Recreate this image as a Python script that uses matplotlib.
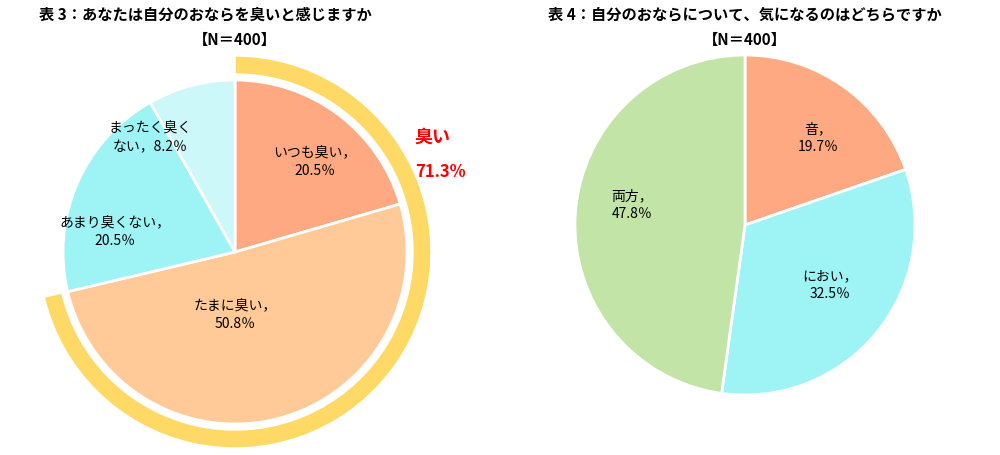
import matplotlib
matplotlib.use("Agg")
import matplotlib.pyplot as plt
from matplotlib.patches import Wedge

plt.rcParams["font.family"] = "Noto Sans CJK JP"

left_labels = ["いつも臭い，\n20.5％", "たまに臭い，\n50.8％", "あまり臭くない，\n20.5％", "まったく臭く\nない，8.2％"]
left_values = [20.5, 50.8, 20.5, 8.2]
left_colors = ["#FFA983", "#FFC998", "#9EF3F5", "#CCF8FA"]
right_labels = ["音，\n19.7％", "におい，\n32.5％", "両方，\n47.8％"]
right_values = [19.7, 32.5, 47.8]
right_colors = ["#FFA983", "#9EF3F5", "#C2E4A6"]
smell_total = 71.3

fig = plt.figure(figsize=(10, 4.56), dpi=100)
ax = fig.add_axes([0, 0, 1, 1])
ax.set_xlim(0, 1000); ax.set_ylim(456, 0); ax.set_aspect("equal"); ax.axis("off")

def pie(center, r, vals, cols, labels, lpos):
    ax.pie(vals, colors=cols, startangle=90, counterclock=False, center=center, radius=r,
           wedgeprops=dict(edgecolor="white", linewidth=2), frame=True)
    for (x, y), t in zip(lpos, labels):
        ax.text(x, y, t, ha="center", va="center", fontsize=10, linespacing=1.3)

# ring
ax.add_patch(Wedge((235, 253), 196, 90 - smell_total * 3.6, 90, width=18, facecolor="#FFD966", edgecolor="white", lw=1))
# pies drawn with y inverted -> flip angles by using negative radius? draw manually instead
def mpie(center, r, vals, cols):
    a = 90
    for v, c in zip(vals, cols):
        b = a - v * 3.6
        # y axis inverted: screen angle theta maps to data angle -theta
        ax.add_patch(Wedge(center, r, -a, -b, facecolor=c, edgecolor="white", lw=2))
        a = b
ax.patches[-1].remove()
ax.add_patch(Wedge((235, 253), 196, -90, -90 + smell_total * 3.6, width=18, facecolor="#FFD966", edgecolor="white", lw=1))
mpie((235, 253), 172, left_values, left_colors)
mpie((745, 226), 170, right_values, right_colors)

for (x, y), t in zip([(315, 162), (235, 315), (115, 232), (150, 138)], left_labels):
    ax.text(x, y, t, ha="center", va="center", fontsize=10, linespacing=1.4)
for (x, y), t in zip([(818, 138), (830, 285), (632, 205)], right_labels):
    ax.text(x, y, t, ha="center", va="center", fontsize=10, linespacing=1.4)

ax.text(432, 137, "臭い", color="red", fontsize=13, fontweight="bold", ha="center", va="center")
ax.text(440, 172, f"{smell_total}%", color="red", fontsize=12, fontweight="bold", ha="center", va="center")

ax.text(205, 14, "表 3：あなたは自分のおならを臭いと感じますか", fontsize=11, fontweight="bold", ha="center", va="center")
ax.text(235, 40, "【N＝400】", fontsize=11, fontweight="bold", ha="center", va="center")
ax.text(745, 14, "表 4：自分のおならについて、気になるのはどちらですか", fontsize=11, fontweight="bold", ha="center", va="center")
ax.text(745, 40, "【N＝400】", fontsize=11, fontweight="bold", ha="center", va="center")

fig.savefig("out.png", dpi=100)
